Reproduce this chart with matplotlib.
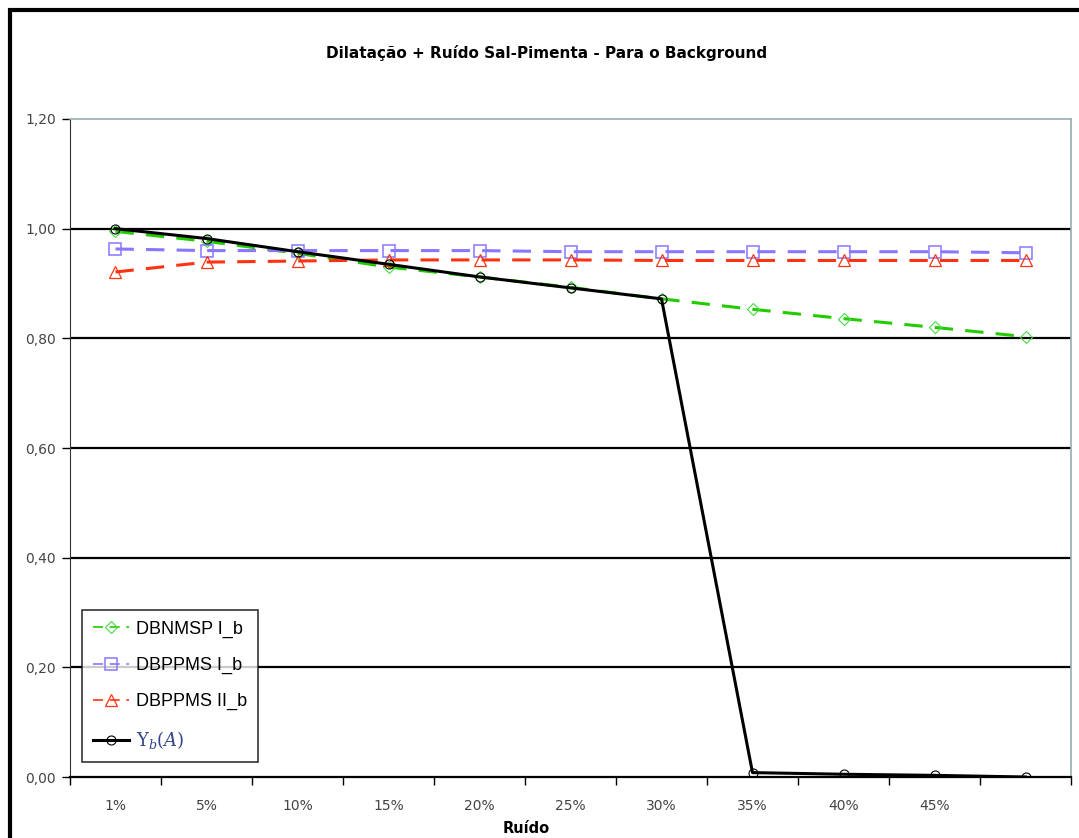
import matplotlib.pyplot as plt
from matplotlib.patches import Rectangle

plt.rcParams['mathtext.fontset'] = 'dejavuserif'

# data
labels = ['1%', '5%', '10%', '15%', '20%', '25%', '30%', '35%', '40%', '45%', '']
dbnmsp = [0.995, 0.977, 0.955, 0.930, 0.912, 0.893, 0.872, 0.853, 0.836, 0.820, 0.803]
dbppms1 = [0.963, 0.960, 0.960, 0.960, 0.960, 0.958, 0.958, 0.958, 0.958, 0.958, 0.956]
dbppms2 = [0.921, 0.939, 0.941, 0.943, 0.943, 0.943, 0.942, 0.942, 0.942, 0.942, 0.942]
upsilon = [1.000, 0.982, 0.958, 0.935, 0.912, 0.892, 0.872, 0.008, 0.005, 0.003, 0.000]

x = list(range(len(labels)))

fig = plt.figure(figsize=(10.79, 8.38), dpi=100)
ax = fig.add_axes([70/1079, 61/838, 1001/1079, 658/838])

# frame around the whole figure
fig.patches.append(Rectangle((10/1079, -0.01), 1.1, (838-10)/838 + 0.01, transform=fig.transFigure,
                             fill=False, edgecolor='black', linewidth=3))

for yv in [0.2, 0.4, 0.6, 0.8, 1.0]:
    ax.axhline(yv, color='black', linewidth=1.6, zorder=1)

ax.plot(x, dbnmsp, color='#22cc00', linewidth=2.2, dashes=(6, 4), marker='D', markersize=6,
        markerfacecolor='none', markeredgecolor='#44dd44', markeredgewidth=0.8,
        label='DBNMSP I_b', zorder=3)
ax.plot(x, dbppms1, color='#8877ff', linewidth=2.2, dashes=(6, 4), marker='s', markersize=8.5,
        markerfacecolor='none', markeredgecolor='#8877ff', markeredgewidth=1.1,
        label='DBPPMS I_b', zorder=3)
ax.plot(x, dbppms2, color='#ff3311', linewidth=2.2, dashes=(6, 4), marker='^', markersize=8.5,
        markerfacecolor='none', markeredgecolor='#ff3311', markeredgewidth=0.9,
        label='DBPPMS II_b', zorder=3)
ax.plot(x, upsilon, color='black', linewidth=2.2, marker='o', markersize=6.5,
        markerfacecolor='none', markeredgecolor='black', markeredgewidth=0.8,
        label=r'$\Upsilon_b(A)$', zorder=4)

ax.set_xlim(-0.5, len(labels) - 0.5)
ax.set_ylim(0, 1.2)
ax.set_yticks([0, 0.2, 0.4, 0.6, 0.8, 1.0, 1.2])
ax.set_yticklabels(['0,00', '0,20', '0,40', '0,60', '0,80', '1,00', '1,20'])
ax.set_xticks(x)
ax.set_xticklabels(labels)
ax.set_xticks([i - 0.5 for i in range(len(labels) + 1)], minor=True)
ax.tick_params(axis='x', which='major', length=0, pad=16, labelsize=10, labelcolor='#444444')
ax.tick_params(axis='x', which='minor', length=6, width=1, color='black', direction='out')
ax.tick_params(axis='y', length=6, width=1, labelsize=10, labelcolor='#444444', pad=4)

ax.spines['bottom'].set_color('black')
ax.spines['bottom'].set_linewidth(1.6)
ax.spines['left'].set_color('#333333')
ax.spines['left'].set_linewidth(0.8)
ax.spines['top'].set_color('#9aaeae')
ax.spines['right'].set_color('#9aaeae')
ax.spines['top'].set_linewidth(1.2)
ax.spines['right'].set_linewidth(1.2)

fig.text(547/1079, 1 - 53/838, 'Dilatação + Ruído Sal-Pimenta - Para o Background',
         ha='center', va='center', fontsize=11, fontweight='bold', family='DejaVu Sans')
fig.text(526/1079, 1 - 828/838, 'Ruído', ha='center', va='center', fontsize=10.5, fontweight='bold')

leg = ax.legend(loc='lower left', bbox_to_anchor=(12/1001, 15/658), borderaxespad=0,
                prop={'family': 'Liberation Sans', 'size': 13},
                frameon=True, fancybox=False, edgecolor='black', handlelength=2.0,
                borderpad=0.6, labelspacing=1.05, handletextpad=0.4)
leg.get_frame().set_linewidth(1.2)
for h in leg.legend_handles:
    h.set_linewidth(1.2)
leg.legend_handles[3].set_linewidth(2.2)
leg.texts[3].set_color('#334488')

fig.savefig('out.png', dpi=100)
